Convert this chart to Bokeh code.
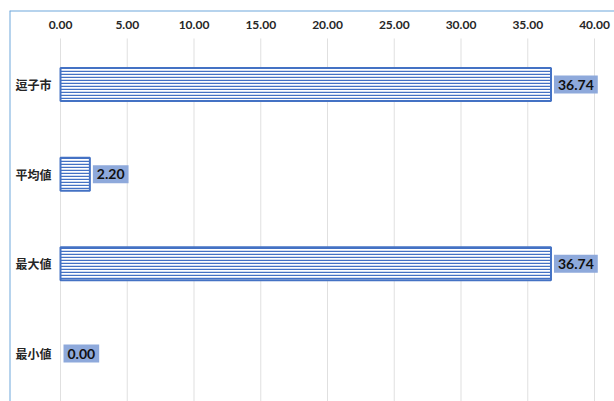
from bokeh.plotting import figure
from bokeh.models import Range1d, Span, ColumnDataSource
from bokeh.core.properties import value
from bokeh.embed import file_html
from bokeh.resources import INLINE

# --- data ---
categories = ["逗子市", "平均値", "最大値", "最小値"]
values = [36.74, 2.20, 36.74, 0.00]
ticks = [0, 5, 10, 15, 20, 25, 30, 35, 40]
tick_labels = ["0.00", "5.00", "10.00", "15.00", "20.00", "25.00", "30.00", "35.00", "40.00"]

# --- layout (pixels) ---
W, H = 614, 401
FRAME_LEFT, FRAME_TOP = 9, 10
ZERO_PX = 60            # x position of 0 on the canvas
PX_PER_UNIT = 534 / 40  # 0 -> 60px, 40 -> 594px
FIRST_ROW_PX = 84       # centre of first category row
ROW_PX = 89.67          # distance between rows
GRID_TOP_PX = 38

fh = H - FRAME_TOP
x_start = -(ZERO_PX - FRAME_LEFT) / PX_PER_UNIT
x_end = (W - ZERO_PX) / PX_PER_UNIT
row0 = FIRST_ROW_PX - FRAME_TOP
y_top = -row0 / ROW_PX
y_bottom = (fh - row0) / ROW_PX
grid_top = y_top + (GRID_TOP_PX - FRAME_TOP) / ROW_PX

p = figure(width=W, height=H, output_backend="svg", toolbar_location=None,
           x_axis_type=None, y_axis_type=None,
           x_range=Range1d(x_start, x_end), y_range=Range1d(y_bottom, y_top))
p.min_border_left = FRAME_LEFT
p.min_border_top = FRAME_TOP
p.min_border_right = 0
p.min_border_bottom = 0
p.outline_line_color = None
p.background_fill_color = "white"
p.border_fill_color = "white"

# vertical gridlines at the tick values, drawn as 1px-wide filled strips
p.vbar(x=ticks, width=1 / PX_PER_UNIT, top=grid_top, bottom=y_bottom,
       fill_color="#E0E0E0", line_color=None)

# chart border (top and left)
border_color = "#6FA8DC"
p.add_layout(Span(location=x_start, dimension="height", line_color=border_color, line_width=2))
p.add_layout(Span(location=y_top, dimension="width", line_color=border_color, line_width=2))

# tick labels along the top
p.text(x=ticks, y=[y_top] * len(ticks), text=tick_labels, y_offset=14,
       text_font=value("Lato"), text_font_style="bold", text_font_size="12px",
       text_color="#262626", text_align="center", text_baseline="middle")

rows = list(range(len(categories)))
src = ColumnDataSource(dict(y=rows, right=values, cat=categories,
                            label=[f"{v:.2f}" for v in values],
                            edge=[1.0 if v > 0 else 0.0 for v in values]))

# bars (a zero-length bar draws nothing)
p.hbar(y="y", left=0, right="right", height=33 / ROW_PX, source=src,
       fill_color="white", line_color="#4472C4", line_width=2, line_alpha="edge",
       fill_alpha="edge", hatch_alpha="edge",
       hatch_pattern="horizontal_line", hatch_color="#4472C4",
       hatch_scale=3, hatch_weight=1.5)

# category labels
p.text(x=x_start, y="y", text="cat", source=src, x_offset=6,
       text_font=value("Noto Sans CJK JP"), text_font_style="bold", text_font_size="12px",
       text_color="#262626", text_align="left", text_baseline="middle")

# value labels
p.text(x="right", y="y", text="label", source=src, x_offset=3,
       text_font=value("Lato"), text_font_style="bold", text_font_size="14px",
       text_color="#111111", anchor="center_left", text_align="left", text_baseline="middle",
       background_fill_color="#8EA9DB", padding=4)

open("out.html", "w").write(file_html(p, INLINE))
